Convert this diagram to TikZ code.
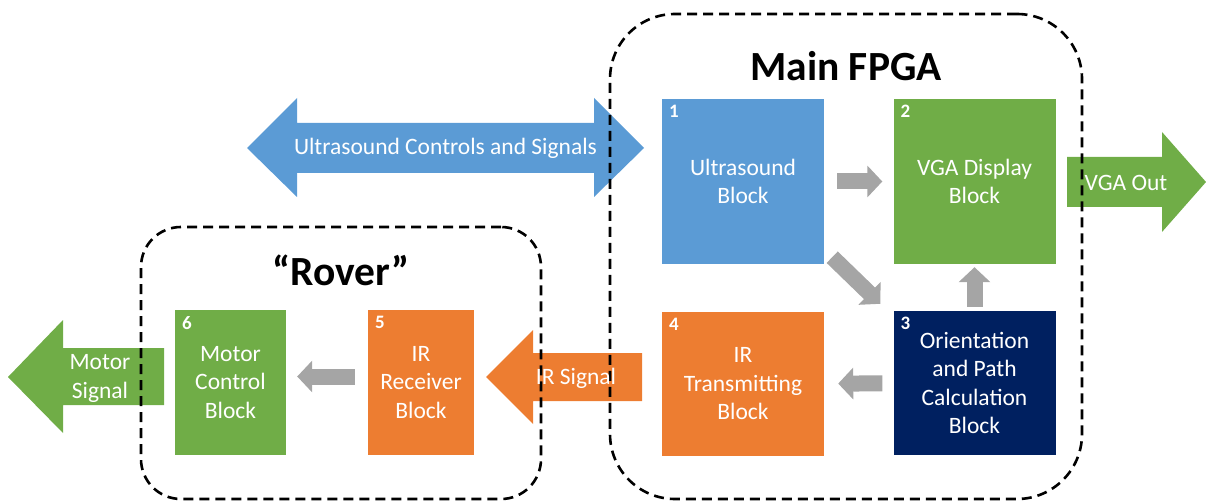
\documentclass[tikz,border=0pt]{standalone}
\usepackage{fontspec}
\setmainfont{Carlito}
\usepackage{xcolor}
\usetikzlibrary{arrows.meta,positioning}

\definecolor{usblue}{HTML}{5B9BD5}
\definecolor{vgagreen}{HTML}{70AD47}
\definecolor{irorange}{HTML}{ED7D31}
\definecolor{calcnavy}{HTML}{002060}
\definecolor{flowgray}{HTML}{A5A5A5}

\begin{document}
\begin{tikzpicture}[
  x=1pt, y=-1pt,
  font=\fontsize{23.5}{28.5}\selectfont,
  block/.style={text=white, align=center, inner sep=0pt,
                minimum width=162pt, minimum height=165pt},
  numtag/.style={anchor=north west, text=white, inner xsep=7pt, inner ysep=6.5pt,
                 font=\fontsize{19}{19}\selectfont\bfseries},
  flow/.style={draw=flowgray, line width=16pt,
               -{Triangle[length=15pt,width=31pt]}},
  groupbox/.style={draw=black, line width=2.6pt, dash pattern=on 10pt off 6pt,
                   inner sep=0pt},
  grouptitle/.style={font=\fontsize{41.5}{45}\selectfont\bfseries},
  sigtext/.style={text=white, align=center, inner sep=1pt},
]
\useasboundingbox (0,0) rectangle (1206,502);

%% ── Main FPGA blocks ─────────────────────────────────────────────────────────
\node[block, fill=usblue]   (ultra)  at (743,181.5)   {Ultrasound\\Block};
\node[block, fill=vgagreen] (vga)    at (974.5,181.5) {VGA Display\\Block};
\node[block, fill=calcnavy, minimum height=144pt] (orient) at (974.5,383)
  {Orientation\\and Path\\Calculation\\Block};
\node[block, fill=irorange, minimum height=144pt] (irtx)   at (743,384)
  {IR\\Transmitting\\Block};

%% ── Rover blocks ─────────────────────────────────────────────────────────────
\node[block, fill=irorange, minimum width=106pt, minimum height=145pt]
  (irrx)  at (421,382.5)   {IR\\Receiver\\Block};
\node[block, fill=vgagreen, minimum width=111pt, minimum height=145pt]
  (motor) at (230.5,382.5) {Motor\\Control\\Block};

%% ── Internal flow ────────────────────────────────────────────────────────────
\draw[flow, shorten <=13pt, shorten >=11pt] (ultra) -- (vga);
\draw[flow] ([xshift=8pt, yshift=7pt]ultra.south east)
         -- ([xshift=-13pt, yshift=7pt]orient.north west);
\draw[flow, shorten <=4pt, shorten >=3pt]   (orient) -- (vga);
\draw[flow, shorten <=11pt, shorten >=14pt] (orient) -- (irtx);
\draw[flow, shorten <=13pt, shorten >=11pt]
  ([yshift=6pt]irrx.west) -- ([yshift=6pt]motor.east);

%% ── Signal arrows in and out ─────────────────────────────────────────────────
\fill[usblue] (247,148) -- (297,98) -- (297,123) -- (594,123) -- (594,98)
  -- (644,148) -- (594,197) -- (594,173) -- (297,173) -- (297,197) -- cycle;
\fill[vgagreen] (1067,157) -- (1162,157) -- (1162,132) -- (1206,182)
  -- (1162,232) -- (1162,207) -- (1067,207) -- cycle;
\fill[irorange] (486,377) -- (533,330) -- (533,353) -- (642,353)
  -- (642,401) -- (533,401) -- (533,424) -- cycle;
\fill[vgagreen] (8,377) -- (63,320) -- (63,348) -- (164,348)
  -- (164,405) -- (63,405) -- (63,433) -- cycle;

%% ── Dashed groups ────────────────────────────────────────────────────────────
\node[groupbox, rounded corners=65pt, minimum width=472pt, minimum height=485pt]
  (fpga)  at (846,256.5) {};
\node[groupbox, rounded corners=40pt, minimum width=400pt, minimum height=272pt]
  (rover) at (341,363) {};
\node[grouptitle] (fpgatitle)  at (846,66.5) {Main FPGA};
\node[grouptitle] (rovertitle) at (341,270)  {“Rover”};

%% ── Labels ───────────────────────────────────────────────────────────────────
\node[sigtext] (usbus)   at (445.5,148)  {Ultrasound Controls and Signals};
\node[sigtext] (vgaout)  at (1126,183)   {VGA Out};
\node[sigtext] (irsig)   at (576,378)    {IR Signal};
\node[sigtext] (motsig)  at (100,378.5)  {Motor\\Signal};

\node[numtag] at (ultra.north west)  {1};
\node[numtag] at (vga.north west)    {2};
\node[numtag] at (orient.north west) {3};
\node[numtag] at (irtx.north west)   {4};
\node[numtag] at (irrx.north west)   {5};
\node[numtag] at (motor.north west)  {6};

\end{tikzpicture}
\end{document}
